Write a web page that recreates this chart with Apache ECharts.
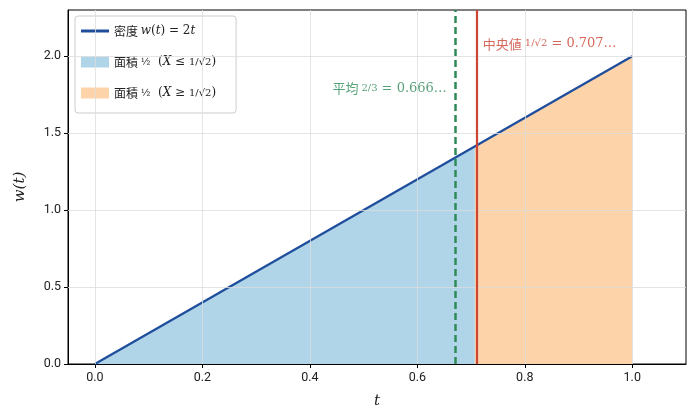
<!DOCTYPE html>
<html>
<head>
<meta charset="utf-8">
<script src="https://cdn.jsdelivr.net/npm/echarts@6/dist/echarts.min.js"></script>
<style>
  html, body { margin: 0; padding: 0; background: #fff; }
  #main { width: 697px; height: 418px; }
</style>
</head>
<body>
<div id="main"></div>
<script>
// data
var xTicks = [0, 0.2, 0.4, 0.6, 0.8, 1.0];
var yTicks = [0, 0.5, 1.0, 1.5, 2.0];
var densityLine = [[0, 0], [1, 2]];
var areaLow = [[0, 0], [0.7071, 1.4142]];
var areaHigh = [[0.7071, 1.4142], [1, 2]];
var meanX = 0.6667;
var medianX = 0.7071;
var meanLabelAt = [0.655, 1.79];
var medianLabelAt = [0.722, 2.08];

var blue = '#1f4e9c';
var lightBlue = '#b0d4e8';
var lightOrange = '#fdd4aa';
var green = '#2e8b57';
var red = '#cc4433';

var mathFont = '"DejaVu Serif", "Liberation Serif", serif';
var cjkFont = '"Noto Sans CJK JP", sans-serif';
var tickFont = 'Roboto, "Liberation Sans", sans-serif';

var legendRich = {
    c: { fontFamily: cjkFont, fontSize: 12, color: '#222' },
    m: { fontFamily: mathFont, fontStyle: 'italic', fontSize: 12, color: '#222' },
    n: { fontFamily: mathFont, fontSize: 12, color: '#222' },
    s: { fontFamily: mathFont, fontSize: 10, color: '#222' }
};
var legendText = {
    '密度': '{c|密度 }{m|w}{n|(}{m|t}{n|) = 2}{m|t}',
    '面積低': '{c|面積 }{s|½}{n|  (}{m|X}{n| ≤ }{s|1/√2}{n|)}',
    '面積高': '{c|面積 }{s|½}{n|  (}{m|X}{n| ≥ }{s|1/√2}{n|)}'
};

var myChart = echarts.init(document.getElementById('main'));

var option = {
    animation: false,
    grid: {
        left: 68, right: 11, top: 10, bottom: 54,
        show: true, borderColor: '#000', borderWidth: 1
    },
    legend: {
        orient: 'vertical',
        left: 75, top: 16,
        padding: [9, 20, 14, 6],
        itemGap: 19,
        itemWidth: 28, itemHeight: 11,
        backgroundColor: '#fff',
        borderColor: '#ccc', borderWidth: 1, borderRadius: 3,
        data: [
            { name: '密度', icon: 'path://M0,0 L28,0 L28,3 L0,3 Z' },
            { name: '面積低', icon: 'rect' },
            { name: '面積高', icon: 'rect' }
        ],
        formatter: function (name) { return legendText[name]; },
        textStyle: { rich: legendRich }
    },
    xAxis: {
        type: 'value',
        min: -0.05, max: 1.1,
        name: 't',
        nameLocation: 'middle',
        nameGap: 30,
        nameTextStyle: { fontFamily: mathFont, fontStyle: 'italic', fontSize: 15, color: '#222' },
        axisLine: { onZero: false, lineStyle: { color: '#000' } },
        axisTick: { show: true, customValues: xTicks, length: 4, lineStyle: { color: '#000' } },
        axisLabel: {
            customValues: xTicks,
            fontFamily: tickFont, fontSize: 12.5, color: '#222', margin: 7,
            formatter: function (v) { return v.toFixed(1); }
        },
        splitLine: { show: false }
    },
    yAxis: {
        type: 'value',
        min: 0, max: 2.3,
        name: 'w(t)',
        nameLocation: 'middle',
        nameGap: 40,
        nameTextStyle: { fontFamily: mathFont, fontStyle: 'italic', fontSize: 15, color: '#222' },
        axisLine: { show: true, onZero: false, lineStyle: { color: '#000' } },
        axisTick: { show: true, customValues: yTicks, length: 4, lineStyle: { color: '#000' } },
        axisLabel: {
            customValues: yTicks,
            fontFamily: tickFont, fontSize: 12.5, color: '#222', margin: 7,
            formatter: function (v) { return v.toFixed(1); }
        },
        splitLine: { show: false }
    },
    series: [
        {
            // grid lines
            name: 'grid',
            type: 'line',
            data: [],
            silent: true,
            markLine: {
                silent: true,
                symbol: 'none',
                label: { show: false },
                lineStyle: { color: '#dddddd', width: 0.8, type: 'solid' },
                data: xTicks.map(function (v) { return { xAxis: v }; })
                    .concat(yTicks.slice(1).map(function (v) { return { yAxis: v }; }))
            }
        },
        {
            name: '面積低',
            type: 'line',
            data: areaLow,
            symbol: 'none',
            color: lightBlue,
            lineStyle: { width: 0 },
            areaStyle: { color: lightBlue, opacity: 1 },
            z: 2
        },
        {
            name: '面積高',
            type: 'line',
            data: areaHigh,
            symbol: 'none',
            color: lightOrange,
            lineStyle: { width: 0 },
            areaStyle: { color: lightOrange, opacity: 1 },
            z: 2
        },
        {
            name: 'lines',
            type: 'line',
            data: [],
            markLine: {
                silent: true,
                symbol: 'none',
                label: { show: false },
                data: [
                    { xAxis: meanX, lineStyle: { color: green, width: 2.5, type: [7, 4] } },
                    { xAxis: medianX, lineStyle: { color: red, width: 2.2, type: 'solid' } }
                ]
            },
            z: 3
        },
        {
            name: '密度',
            type: 'line',
            data: densityLine,
            symbol: 'none',
            color: blue,
            lineStyle: { color: blue, width: 2.3 },
            z: 4
        },
        {
            name: 'notes',
            type: 'scatter',
            symbolSize: 0,
            silent: true,
            data: [
                {
                    value: meanLabelAt,
                    label: {
                        show: true, position: 'left', distance: 0,
                        formatter: '{c|平均 }{s|2/3}{n| = 0.666…}',
                        rich: {
                            c: { fontFamily: cjkFont, fontSize: 13, color: green },
                            s: { fontFamily: mathFont, fontSize: 10, color: green },
                            n: { fontFamily: mathFont, fontSize: 13, color: green }
                        }
                    }
                },
                {
                    value: medianLabelAt,
                    label: {
                        show: true, position: 'right', distance: 0,
                        formatter: '{c|中央値 }{s|1/√2}{n| = 0.707…}',
                        rich: {
                            c: { fontFamily: cjkFont, fontSize: 13, color: red },
                            s: { fontFamily: mathFont, fontSize: 10, color: red },
                            n: { fontFamily: mathFont, fontSize: 13, color: red }
                        }
                    }
                }
            ],
            z: 5
        }
    ]
};
myChart.setOption(option);
</script>
</body>
</html>
